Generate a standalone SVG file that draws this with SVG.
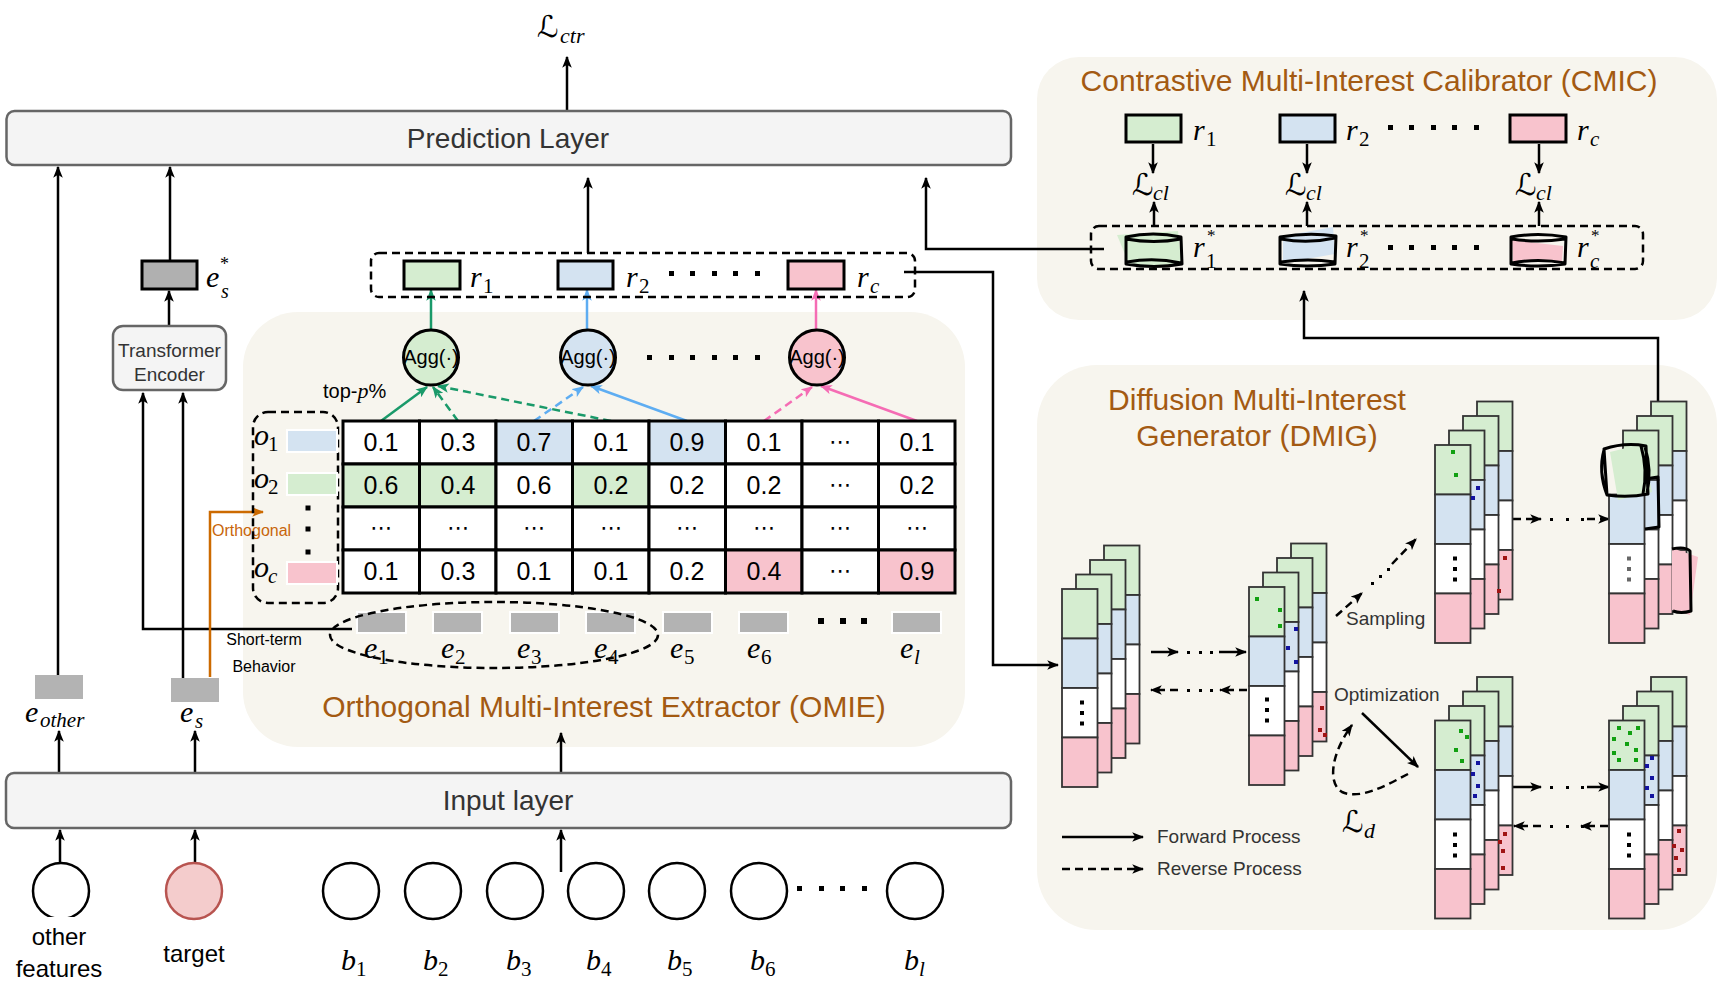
<svg xmlns="http://www.w3.org/2000/svg" xmlns:xlink="http://www.w3.org/1999/xlink" width="1730" height="984" viewBox="0 0 1730 984">
<style>
.sans{font-family:"Liberation Sans",Arial,sans-serif}
.math{font-family:"Liberation Serif","Times New Roman",serif;font-style:italic}
.mrm{font-family:"Liberation Serif","Times New Roman",serif;font-style:normal}
.cal{font-family:"DejaVu Serif","DejaVu Sans",serif;font-style:normal}
.title{font-family:"Liberation Sans",Arial,sans-serif;font-size:30px;fill:#a35a12}
.lbl{font-family:"Liberation Sans",Arial,sans-serif;fill:#333}
.conn{fill:none;stroke:#000;stroke-width:2.5}
.dash{stroke-dasharray:8 5}
.bg{fill:#f7f5ee}
.layer{fill:#f4f4f4;stroke:#666;stroke-width:2.5}
.cell{stroke:#000;stroke-width:3}
.num{font-family:"Liberation Sans",Arial,sans-serif;font-size:25px;text-anchor:middle}
.ell{font-family:"DejaVu Sans",sans-serif;font-size:22px;text-anchor:middle}
.seg{stroke:#333;stroke-width:1.8}
.g{fill:#d5edd0}.b{fill:#d4e3f1}.p{fill:#f8c3cd}.w{fill:#fff}
.dg{fill:#12a012}.db{fill:#1414a0}.dr{fill:#a01414}.dk{fill:#000}.dgr{fill:#666}
.sk{fill:none;stroke:#000;stroke-width:3;stroke-linejoin:round}
</style>
<defs>
<marker id="ah" viewBox="0 0 10 8" refX="9" refY="4" markerWidth="12" markerHeight="10" orient="auto" markerUnits="userSpaceOnUse"><path d="M0,0 L10,4 L0,8 L2.5,4 Z" fill="#000"/></marker>
<marker id="ahG" viewBox="0 0 10 8" refX="9" refY="4" markerWidth="12" markerHeight="10" orient="auto" markerUnits="userSpaceOnUse"><path d="M0,0 L10,4 L0,8 L2.5,4 Z" fill="#1a9a6a"/></marker>
<marker id="ahB" viewBox="0 0 10 8" refX="9" refY="4" markerWidth="12" markerHeight="10" orient="auto" markerUnits="userSpaceOnUse"><path d="M0,0 L10,4 L0,8 L2.5,4 Z" fill="#5eadf2"/></marker>
<marker id="ahP" viewBox="0 0 10 8" refX="9" refY="4" markerWidth="12" markerHeight="10" orient="auto" markerUnits="userSpaceOnUse"><path d="M0,0 L10,4 L0,8 L2.5,4 Z" fill="#f56cb4"/></marker>
<marker id="ahO" viewBox="0 0 10 8" refX="9" refY="4" markerWidth="12" markerHeight="10" orient="auto" markerUnits="userSpaceOnUse"><path d="M0,0 L10,4 L0,8 L2.5,4 Z" fill="#cc6a00"/></marker>
<g id="col">
<rect class="seg g" x="0" y="0" width="35.5" height="49.5"/>
<rect class="seg b" x="0" y="49.5" width="35.5" height="49.5"/>
<rect class="seg w" x="0" y="99" width="35.5" height="49.5"/>
<rect class="seg p" x="0" y="148.5" width="35.5" height="49.5"/>
</g>
<g id="colNoTop">
<rect class="seg b" x="0" y="49.5" width="35.5" height="49.5"/>
<rect class="seg w" x="0" y="99" width="35.5" height="49.5"/>
<rect class="seg p" x="0" y="148.5" width="35.5" height="49.5"/>
</g>
<g id="vdots"><rect x="-2" y="-12.5" width="4" height="4"/><rect x="-2" y="-2" width="4" height="4"/><rect x="-2" y="8.5" width="4" height="4"/></g>
</defs>

<rect width="1730" height="984" fill="#fff"/>

<!-- background panels -->
<g id="omie-panel"><rect class="bg" x="243" y="312" width="722" height="435" rx="55"/>
<text class="title" x="604" y="717" text-anchor="middle">Orthogonal Multi-Interest Extractor (OMIE)</text></g>
<g id="cmic-panel"><rect class="bg" x="1037" y="57" width="680" height="263" rx="42"/>
<text class="title" x="1369" y="91" text-anchor="middle">Contrastive Multi-Interest Calibrator (CMIC)</text></g>
<g id="dmig-panel"><rect class="bg" x="1037" y="365" width="680" height="565" rx="60"/>
<text class="title" x="1257" y="410" text-anchor="middle">Diffusion Multi-Interest</text>
<text class="title" x="1257" y="446" text-anchor="middle">Generator (DMIG)</text></g>

<!-- connectors -->
<g id="connectors">
<line class="conn" x1="567" y1="110" x2="567" y2="57" marker-end="url(#ah)"/>
<line class="conn" x1="58" y1="675" x2="58" y2="167" marker-end="url(#ah)"/>
<line class="conn" x1="170" y1="261" x2="170" y2="167" marker-end="url(#ah)"/>
<line class="conn" x1="169" y1="326" x2="169" y2="291" marker-end="url(#ah)"/>
<line class="conn" x1="588" y1="253" x2="588" y2="178" marker-end="url(#ah)"/>
<polyline class="conn" points="1104,249 926,249 926,178" marker-end="url(#ah)"/>
<polyline class="conn" points="352,629 143,629 143,393" marker-end="url(#ah)"/>
<line class="conn" x1="183" y1="678" x2="183" y2="393" marker-end="url(#ah)"/>
<polyline fill="none" stroke="#cc6a00" stroke-width="2.5" points="210,677 210,512 263,512" marker-end="url(#ahO)"/>
<line class="conn" x1="59" y1="773" x2="59" y2="731" marker-end="url(#ah)"/>
<line class="conn" x1="195" y1="773" x2="195" y2="731" marker-end="url(#ah)"/>
<line class="conn" x1="561" y1="772" x2="561" y2="733" marker-end="url(#ah)"/>
<line class="conn" x1="60" y1="863" x2="60" y2="830" marker-end="url(#ah)"/>
<line class="conn" x1="195" y1="863" x2="195" y2="830" marker-end="url(#ah)"/>
<line class="conn" x1="561" y1="872" x2="561" y2="830" marker-end="url(#ah)"/>
<!-- Agg to r -->
<line stroke="#1a9a6a" stroke-width="2.5" x1="431" y1="330" x2="431" y2="290" marker-end="url(#ahG)"/>
<line stroke="#5eadf2" stroke-width="2.5" x1="587" y1="330" x2="587" y2="290" marker-end="url(#ahB)"/>
<line stroke="#f56cb4" stroke-width="2.5" x1="816" y1="330" x2="816" y2="290" marker-end="url(#ahP)"/>
<!-- table to Agg -->
<line stroke="#1a9a6a" stroke-width="2.5" x1="381" y1="421" x2="427" y2="387" marker-end="url(#ahG)"/>
<line stroke="#1a9a6a" stroke-width="2.5" class="dash" x1="458" y1="421" x2="433" y2="387" marker-end="url(#ahG)"/>
<line stroke="#1a9a6a" stroke-width="2.5" class="dash" x1="611" y1="421" x2="438" y2="386" marker-end="url(#ahG)"/>
<line stroke="#5eadf2" stroke-width="2.5" class="dash" x1="534" y1="421" x2="583" y2="387" marker-end="url(#ahB)"/>
<line stroke="#5eadf2" stroke-width="2.5" x1="687" y1="421" x2="591" y2="386" marker-end="url(#ahB)"/>
<line stroke="#f56cb4" stroke-width="2.5" class="dash" x1="764" y1="421" x2="812" y2="387" marker-end="url(#ahP)"/>
<line stroke="#f56cb4" stroke-width="2.5" x1="917" y1="421" x2="821" y2="386" marker-end="url(#ahP)"/>
<!-- r to DMIG -->
<polyline class="conn" points="904,272 993,272 993,665 1058,665" marker-end="url(#ah)"/>
<!-- DMIG to CMIC -->
<polyline class="conn" points="1658,401 1658,338 1304,338 1304,291" marker-end="url(#ah)"/>
<!-- CMIC internal -->
<line class="conn" x1="1153" y1="144" x2="1153" y2="173" marker-end="url(#ah)"/>
<line class="conn" x1="1307" y1="144" x2="1307" y2="173" marker-end="url(#ah)"/>
<line class="conn" x1="1539" y1="144" x2="1539" y2="173" marker-end="url(#ah)"/>
<line class="conn" x1="1154" y1="226" x2="1154" y2="202" marker-end="url(#ah)"/>
<line class="conn" x1="1307" y1="226" x2="1307" y2="202" marker-end="url(#ah)"/>
<line class="conn" x1="1539" y1="226" x2="1539" y2="202" marker-end="url(#ah)"/>
<!-- DMIG internal -->
<line class="conn" x1="1151" y1="652" x2="1178" y2="652" marker-end="url(#ah)"/>
<line class="conn" x1="1219" y1="652" x2="1246" y2="652" marker-end="url(#ah)"/>
<line class="conn dash" x1="1247" y1="690" x2="1220" y2="690" marker-end="url(#ah)"/>
<line class="conn dash" x1="1178" y1="690" x2="1151" y2="690" marker-end="url(#ah)"/>
<line class="conn dash" x1="1513" y1="519" x2="1541" y2="519" marker-end="url(#ah)"/>
<line class="conn dash" x1="1587" y1="519" x2="1609" y2="519" marker-end="url(#ah)"/>
<line class="conn" x1="1513" y1="787" x2="1541" y2="787" marker-end="url(#ah)"/>
<line class="conn" x1="1587" y1="787" x2="1609" y2="787" marker-end="url(#ah)"/>
<line class="conn dash" x1="1608" y1="826" x2="1581" y2="826" marker-end="url(#ah)"/>
<line class="conn dash" x1="1541" y1="826" x2="1514" y2="826" marker-end="url(#ah)"/>
<line class="conn dash" x1="1336" y1="616" x2="1362" y2="593" marker-end="url(#ah)"/>
<line class="conn dash" x1="1392" y1="564" x2="1416" y2="539" marker-end="url(#ah)"/>
<line class="conn" x1="1362" y1="713" x2="1418" y2="767" marker-end="url(#ah)"/>
<path class="conn dash" d="M1408,774 C1385,786 1360,800 1342,792 C1328,784 1330,755 1352,725" marker-end="url(#ah)"/>
<line class="conn" x1="1062" y1="837" x2="1143" y2="837" marker-end="url(#ah)"/>
<line class="conn dash" x1="1062" y1="869" x2="1143" y2="869" marker-end="url(#ah)"/>
<g class="dk">
<rect x="1187" y="651" width="3" height="3"/><rect x="1199" y="651" width="3" height="3"/><rect x="1210" y="651" width="3" height="3"/>
<rect x="1187" y="689" width="3" height="3"/><rect x="1199" y="689" width="3" height="3"/><rect x="1210" y="689" width="3" height="3"/>
<rect x="1550" y="518" width="3" height="3"/><rect x="1566" y="518" width="3" height="3"/><rect x="1581" y="518" width="3" height="3"/>
<rect x="1550" y="786" width="3" height="3"/><rect x="1566" y="786" width="3" height="3"/><rect x="1581" y="786" width="3" height="3"/>
<rect x="1550" y="825" width="3" height="3"/><rect x="1566" y="825" width="3" height="3"/><rect x="1581" y="825" width="3" height="3"/>
<rect x="1371" y="582" width="3" height="3"/><rect x="1379" y="575" width="3" height="3"/><rect x="1387" y="568" width="3" height="3"/>
</g>
</g>

<!-- Prediction layer -->
<g id="prediction-layer"><rect class="layer" x="6.5" y="111" width="1004.5" height="54" rx="8"/>
<text class="lbl" x="508" y="148" font-size="28" text-anchor="middle">Prediction Layer</text></g>
<g id="loss-ctr"><text class="cal" x="537" y="37" font-size="30">ℒ</text><text class="math" x="560" y="43" font-size="22">ctr</text></g>

<!-- Input layer -->
<g id="input-layer"><rect class="layer" x="6" y="773" width="1005" height="55" rx="8"/>
<text class="lbl" x="508" y="810" font-size="28" text-anchor="middle">Input layer</text></g>

<!-- e_s* and transformer -->
<g id="es-star"><rect x="142" y="261" width="55" height="28" fill="#b0b0b0" stroke="#000" stroke-width="3"/>
<text class="math" x="206" y="287" font-size="30">e</text><text class="mrm" x="220" y="270" font-size="18">*</text><text class="math" x="221" y="298" font-size="20">s</text></g>
<g id="transformer"><rect class="layer" x="113" y="326" width="113" height="64" rx="10"/>
<text class="lbl" x="169.5" y="357" font-size="19" text-anchor="middle">Transformer</text>
<text class="lbl" x="169.5" y="381" font-size="19" text-anchor="middle">Encoder</text></g>

<g id="e-other"><rect x="35" y="675" width="48" height="24" fill="#b3b3b3"/>
<text class="math" x="25" y="722" font-size="30">e</text><text class="math" x="40" y="727" font-size="21">other</text></g>
<g id="e-s"><rect x="171" y="678" width="48" height="24" fill="#b3b3b3"/>
<text class="math" x="180" y="722" font-size="30">e</text><text class="math" x="195" y="728" font-size="21">s</text></g>
<g id="orthogonal-label"><text class="sans" x="212" y="536" font-size="16" fill="#c8650a">Orthogonal</text></g>
<g id="short-term-label"><text class="sans" x="264" y="645" font-size="16" text-anchor="middle">Short-term</text>
<text class="sans" x="264" y="672" font-size="16" text-anchor="middle">Behavior</text></g>

<!-- bottom inputs -->
<g id="other-features"><circle cx="61" cy="891" r="28" fill="#fff" stroke="#000" stroke-width="2.5"/>
<rect x="31" y="917" width="58" height="14" fill="#fff"/>
<text class="sans" x="59" y="945" font-size="24" text-anchor="middle">other</text>
<text class="sans" x="59" y="977" font-size="24" text-anchor="middle">features</text></g>
<g id="target"><circle cx="194" cy="891" r="28" fill="#f4cccc" stroke="#b85450" stroke-width="2.5"/>
<text class="sans" x="194" y="962" font-size="24" text-anchor="middle">target</text></g>
<g id="behaviors" fill="#fff" stroke="#000" stroke-width="2.5">
<circle cx="351" cy="891" r="28"/><circle cx="433" cy="891" r="28"/><circle cx="515" cy="891" r="28"/><circle cx="596" cy="891" r="28"/><circle cx="677" cy="891" r="28"/><circle cx="759" cy="891" r="28"/><circle cx="915" cy="891" r="28"/>
</g>
<g id="behavior-labels">
<text class="math" x="341" y="970" font-size="30">b</text><text class="mrm" x="356" y="976" font-size="21">1</text>
<text class="math" x="423" y="970" font-size="30">b</text><text class="mrm" x="438" y="976" font-size="21">2</text>
<text class="math" x="506" y="970" font-size="30">b</text><text class="mrm" x="521" y="976" font-size="21">3</text>
<text class="math" x="586" y="970" font-size="30">b</text><text class="mrm" x="601" y="976" font-size="21">4</text>
<text class="math" x="667" y="970" font-size="30">b</text><text class="mrm" x="682" y="976" font-size="21">5</text>
<text class="math" x="750" y="970" font-size="30">b</text><text class="mrm" x="765" y="976" font-size="21">6</text>
<text class="math" x="904" y="970" font-size="30">b</text><text class="math" x="919" y="976" font-size="21">l</text>
<g class="dk"><rect x="797" y="886" width="5" height="5"/><rect x="819" y="886" width="5" height="5"/><rect x="840" y="886" width="5" height="5"/><rect x="862" y="886" width="5" height="5"/></g>
</g>

<!-- r dashed group -->
<g id="r-group">
<rect x="371" y="253" width="544" height="44" rx="8" fill="none" stroke="#000" stroke-width="2.5" class="dash"/>
<rect class="g" x="404" y="261" width="56" height="28" stroke="#000" stroke-width="3"/>
<rect class="b" x="558" y="261" width="55" height="28" stroke="#000" stroke-width="3"/>
<rect class="p" x="788" y="261" width="56" height="28" stroke="#000" stroke-width="3"/>
<text class="math" x="470" y="287" font-size="30">r</text><text class="mrm" x="483" y="293" font-size="21">1</text>
<text class="math" x="626" y="287" font-size="30">r</text><text class="mrm" x="639" y="293" font-size="21">2</text>
<text class="math" x="857" y="287" font-size="30">r</text><text class="math" x="870" y="293" font-size="21">c</text>
<g class="dk"><rect x="669" y="271" width="5" height="5"/><rect x="690" y="271" width="5" height="5"/><rect x="712" y="271" width="5" height="5"/><rect x="733" y="271" width="5" height="5"/><rect x="755" y="271" width="5" height="5"/></g>
</g>

<!-- Agg nodes -->
<g id="agg1"><circle cx="431" cy="357.5" r="27.5" class="g" stroke="#000" stroke-width="3"/><text class="sans" x="431" y="364" font-size="20" text-anchor="middle">Agg(·)</text></g>
<g id="agg2"><circle cx="588" cy="357.5" r="27.5" class="b" stroke="#000" stroke-width="3"/><text class="sans" x="588" y="364" font-size="20" text-anchor="middle">Agg(·)</text></g>
<g id="agg3"><circle cx="817" cy="357.5" r="27.5" class="p" stroke="#000" stroke-width="3"/><text class="sans" x="817" y="364" font-size="20" text-anchor="middle">Agg(·)</text></g>
<g class="dk"><rect x="647" y="355" width="5" height="5"/><rect x="669" y="355" width="5" height="5"/><rect x="690" y="355" width="5" height="5"/><rect x="712" y="355" width="5" height="5"/><rect x="733" y="355" width="5" height="5"/><rect x="755" y="355" width="5" height="5"/></g>
<g id="top-p"><text class="sans" x="323" y="398" font-size="20">top-<tspan class="math" font-size="22">p</tspan>%</text></g>

<!-- orthogonal interests -->
<g id="interests">
<rect x="253" y="412" width="85" height="191" rx="15" fill="none" stroke="#000" stroke-width="2.5" class="dash"/>
<rect class="b" x="287" y="430" width="50" height="22" stroke="#fff" stroke-width="2"/>
<rect class="g" x="287" y="473" width="50" height="22" stroke="#fff" stroke-width="2"/>
<rect class="p" x="287" y="562" width="50" height="22" stroke="#fff" stroke-width="2"/>
<text class="math" x="254" y="445" font-size="30">o</text><text class="mrm" x="268" y="451" font-size="21">1</text>
<text class="math" x="254" y="488" font-size="30">o</text><text class="mrm" x="268" y="494" font-size="21">2</text>
<text class="math" x="254" y="577" font-size="30">o</text><text class="math" x="268" y="583" font-size="21">c</text>
<g class="dk"><rect x="305.5" y="505.5" width="5" height="5"/><rect x="305.5" y="526.5" width="5" height="5"/><rect x="305.5" y="549.5" width="5" height="5"/></g>
</g>

<!-- score table -->
<g id="score-table">
<g class="cell">
<rect class="w" x="343" y="421" width="76.5" height="43"/><rect class="w" x="419.5" y="421" width="76.5" height="43"/><rect class="b" x="496" y="421" width="76.5" height="43"/><rect class="w" x="572.5" y="421" width="76.5" height="43"/><rect class="b" x="649" y="421" width="76.5" height="43"/><rect class="w" x="725.5" y="421" width="76.5" height="43"/><rect class="w" x="802" y="421" width="76.5" height="43"/><rect class="w" x="878.5" y="421" width="76.5" height="43"/>
<rect class="g" x="343" y="464" width="76.5" height="43"/><rect class="g" x="419.5" y="464" width="76.5" height="43"/><rect class="w" x="496" y="464" width="76.5" height="43"/><rect class="g" x="572.5" y="464" width="76.5" height="43"/><rect class="w" x="649" y="464" width="76.5" height="43"/><rect class="w" x="725.5" y="464" width="76.5" height="43"/><rect class="w" x="802" y="464" width="76.5" height="43"/><rect class="w" x="878.5" y="464" width="76.5" height="43"/>
<rect class="w" x="343" y="507" width="76.5" height="43"/><rect class="w" x="419.5" y="507" width="76.5" height="43"/><rect class="w" x="496" y="507" width="76.5" height="43"/><rect class="w" x="572.5" y="507" width="76.5" height="43"/><rect class="w" x="649" y="507" width="76.5" height="43"/><rect class="w" x="725.5" y="507" width="76.5" height="43"/><rect class="w" x="802" y="507" width="76.5" height="43"/><rect class="w" x="878.5" y="507" width="76.5" height="43"/>
<rect class="w" x="343" y="550" width="76.5" height="43"/><rect class="w" x="419.5" y="550" width="76.5" height="43"/><rect class="w" x="496" y="550" width="76.5" height="43"/><rect class="w" x="572.5" y="550" width="76.5" height="43"/><rect class="w" x="649" y="550" width="76.5" height="43"/><rect class="p" x="725.5" y="550" width="76.5" height="43"/><rect class="w" x="802" y="550" width="76.5" height="43"/><rect class="p" x="878.5" y="550" width="76.5" height="43"/>
</g>
<g class="num">
<text x="381" y="451">0.1</text><text x="458" y="451">0.3</text><text x="534" y="451">0.7</text><text x="611" y="451">0.1</text><text x="687" y="451">0.9</text><text x="764" y="451">0.1</text><text x="917" y="451">0.1</text>
<text x="381" y="494">0.6</text><text x="458" y="494">0.4</text><text x="534" y="494">0.6</text><text x="611" y="494">0.2</text><text x="687" y="494">0.2</text><text x="764" y="494">0.2</text><text x="917" y="494">0.2</text>
<text x="381" y="580">0.1</text><text x="458" y="580">0.3</text><text x="534" y="580">0.1</text><text x="611" y="580">0.1</text><text x="687" y="580">0.2</text><text x="764" y="580">0.4</text><text x="917" y="580">0.9</text>
</g>
<g class="ell">
<text x="840" y="449">⋯</text><text x="840" y="492">⋯</text><text x="840" y="578">⋯</text>
<text x="381" y="535">⋯</text><text x="458" y="535">⋯</text><text x="534" y="535">⋯</text><text x="611" y="535">⋯</text><text x="687" y="535">⋯</text><text x="764" y="535">⋯</text><text x="840" y="535">⋯</text><text x="917" y="535">⋯</text>
</g>
</g>

<!-- behavior embeddings -->
<g id="embeddings">
<g fill="#b3b3b3" stroke="#fff" stroke-width="2">
<rect x="357" y="612" width="49" height="21"/><rect x="433" y="612" width="49" height="21"/><rect x="510" y="612" width="49" height="21"/><rect x="586" y="612" width="49" height="21"/><rect x="663" y="612" width="49" height="21"/><rect x="739" y="612" width="49" height="21"/><rect x="892" y="612" width="49" height="21"/>
</g>
<ellipse cx="494" cy="635" rx="164" ry="33" fill="none" stroke="#000" stroke-width="2.5" class="dash"/>
<text class="math" x="364" y="658" font-size="30">e</text><text class="mrm" x="378" y="664" font-size="21">1</text>
<text class="math" x="441" y="658" font-size="30">e</text><text class="mrm" x="455" y="664" font-size="21">2</text>
<text class="math" x="517" y="658" font-size="30">e</text><text class="mrm" x="531" y="664" font-size="21">3</text>
<text class="math" x="594" y="658" font-size="30">e</text><text class="mrm" x="608" y="664" font-size="21">4</text>
<text class="math" x="670" y="658" font-size="30">e</text><text class="mrm" x="684" y="664" font-size="21">5</text>
<text class="math" x="747" y="658" font-size="30">e</text><text class="mrm" x="761" y="664" font-size="21">6</text>
<text class="math" x="900" y="658" font-size="30">e</text><text class="math" x="914" y="664" font-size="21">l</text>
<g class="dk"><rect x="818" y="618" width="6" height="6"/><rect x="840" y="618" width="6" height="6"/><rect x="861" y="618" width="6" height="6"/></g>
</g>

<!-- CMIC contents -->
<g id="cmic-r">
<rect class="g" x="1126" y="115" width="55" height="27" stroke="#000" stroke-width="3"/>
<rect class="b" x="1280" y="115" width="55" height="27" stroke="#000" stroke-width="3"/>
<rect class="p" x="1510" y="115" width="56" height="27" stroke="#000" stroke-width="3"/>
<text class="math" x="1193" y="140" font-size="30">r</text><text class="mrm" x="1206" y="146" font-size="21">1</text>
<text class="math" x="1346" y="140" font-size="30">r</text><text class="mrm" x="1359" y="146" font-size="21">2</text>
<text class="math" x="1577" y="140" font-size="30">r</text><text class="math" x="1590" y="146" font-size="21">c</text>
<g class="dk"><rect x="1388" y="125" width="5" height="5"/><rect x="1409" y="125" width="5" height="5"/><rect x="1431" y="125" width="5" height="5"/><rect x="1452" y="125" width="5" height="5"/><rect x="1474" y="125" width="5" height="5"/></g>
</g>
<g id="cmic-loss">
<text class="cal" x="1132" y="195" font-size="30">ℒ</text><text class="math" x="1153" y="200" font-size="22">cl</text>
<text class="cal" x="1285" y="195" font-size="30">ℒ</text><text class="math" x="1306" y="200" font-size="22">cl</text>
<text class="cal" x="1515" y="195" font-size="30">ℒ</text><text class="math" x="1536" y="200" font-size="22">cl</text>
</g>
<g id="cmic-rstar">
<rect x="1091" y="226" width="552" height="43" rx="8" fill="none" stroke="#000" stroke-width="2.5" class="dash"/>
<polygon class="g" points="1117,235 1178,231 1182,265 1130,266"/>
<polygon class="b" points="1283,236 1333,227 1335,254 1283,263"/>
<polygon class="p" points="1512,240 1563,246 1562,262 1513,262"/>
<path class="sk" d="M1126,237 Q1153,231 1181,237 L1182,264 Q1154,269 1126,264 Z M1126,239 Q1154,244 1181,239 M1127,262 Q1154,257 1181,263"/>
<path class="sk" d="M1280,237 Q1308,232 1336,236 L1335,264 Q1307,268 1280,264 Z M1281,239 Q1308,244 1335,238 M1281,262 Q1308,258 1335,262"/>
<path class="sk" d="M1511,237 Q1538,232 1566,237 L1565,264 Q1538,268 1511,264 Z M1512,239 Q1538,243 1565,239 M1512,263 Q1538,258 1565,263"/>
<text class="math" x="1193" y="257" font-size="30">r</text><text class="mrm" x="1207" y="241" font-size="17">*</text><text class="mrm" x="1206" y="268" font-size="21">1</text>
<text class="math" x="1346" y="257" font-size="30">r</text><text class="mrm" x="1360" y="241" font-size="17">*</text><text class="mrm" x="1359" y="268" font-size="21">2</text>
<text class="math" x="1577" y="257" font-size="30">r</text><text class="mrm" x="1591" y="241" font-size="17">*</text><text class="math" x="1590" y="268" font-size="21">c</text>
<g class="dk"><rect x="1388" y="245" width="5" height="5"/><rect x="1409" y="245" width="5" height="5"/><rect x="1431" y="245" width="5" height="5"/><rect x="1452" y="245" width="5" height="5"/><rect x="1474" y="245" width="5" height="5"/></g>
</g>

<!-- DMIG stacks -->
<g id="stack1">
<use href="#col" x="1104" y="545.5"/><use href="#col" x="1090" y="560"/><use href="#col" x="1076" y="574.5"/><use href="#col" x="1062" y="589"/>
<use href="#vdots" x="1082" y="713" class="dk"/>
</g>
<g id="stack2">
<use href="#col" x="1291" y="543.5"/><use href="#col" x="1277" y="558"/><use href="#col" x="1263" y="572.5"/><use href="#col" x="1249" y="587"/>
<use href="#vdots" x="1267" y="710" class="dk"/>
<g class="dg"><rect x="1255" y="597" width="4" height="4"/><rect x="1278" y="608" width="4" height="4"/><rect x="1278" y="624" width="4" height="4"/></g>
<g class="db"><rect x="1294" y="627" width="4" height="4"/><rect x="1286" y="646" width="4" height="4"/><rect x="1294" y="660" width="4" height="4"/></g>
<g class="dr"><rect x="1320" y="706" width="4" height="4"/><rect x="1318" y="728" width="4" height="4"/><rect x="1323" y="733" width="4" height="4"/></g>
</g>
<g id="stack3">
<use href="#col" x="1477" y="401.5"/><use href="#col" x="1463" y="416"/><use href="#col" x="1449" y="430.5"/><use href="#col" x="1435" y="445"/>
<use href="#vdots" x="1455" y="569" class="dk"/>
<g class="dg"><rect x="1451" y="450" width="4" height="4"/><rect x="1454" y="473" width="4" height="4"/></g>
<g class="db"><rect x="1476" y="486" width="4" height="4"/><rect x="1471" y="496" width="4" height="4"/></g>
<g class="dr"><rect x="1503" y="556" width="4" height="4"/><rect x="1497" y="589" width="4" height="4"/></g>
</g>
<g id="stack4">
<use href="#col" x="1651" y="401.5"/><use href="#col" x="1637" y="416"/><use href="#col" x="1623" y="430.5"/><use href="#colNoTop" x="1609" y="445"/>
<use href="#vdots" x="1629" y="569" class="dgr"/>
<polygon class="g" points="1610,452 1642,444 1652,492 1618,500"/>
<path class="sk" stroke-width="1.6" d="M1604,449 Q1625,442 1646,446 L1648,494 Q1628,498 1607,495 Z M1604,450 Q1598,472 1607,495 M1641,446 Q1648,470 1643,494 M1645,447 Q1652,470 1647,493"/>
<path class="sk" stroke-width="1.6" d="M1645,479 L1658,477 L1659,527 L1645,529"/>
<polygon class="p" points="1672,548 1698,557 1690,615 1672,610"/>
<path class="sk" stroke-width="1.6" d="M1672,549 Q1685,546 1690,551 L1691,611 Q1681,614 1673,611"/>
</g>
<g id="stack5">
<use href="#col" x="1477" y="677"/><use href="#col" x="1463" y="691.5"/><use href="#col" x="1449" y="706"/><use href="#col" x="1435" y="720.5"/>
<use href="#vdots" x="1455" y="845" class="dk"/>
<g class="dg"><rect x="1459" y="729" width="4" height="4"/><rect x="1465" y="735" width="4" height="4"/><rect x="1454" y="748" width="4" height="4"/><rect x="1460" y="759" width="4" height="4"/></g>
<g class="db"><rect x="1476" y="761" width="4" height="4"/><rect x="1471" y="772" width="4" height="4"/><rect x="1476" y="784" width="4" height="4"/><rect x="1473" y="794" width="4" height="4"/></g>
<g class="dr"><rect x="1503" y="832" width="4" height="4"/><rect x="1498" y="840" width="4" height="4"/><rect x="1501" y="849" width="4" height="4"/><rect x="1501" y="866" width="4" height="4"/></g>
</g>
<g id="stack6">
<use href="#col" x="1651" y="677"/><use href="#col" x="1637" y="691.5"/><use href="#col" x="1623" y="706"/><use href="#col" x="1609" y="720.5"/>
<use href="#vdots" x="1629" y="845" class="dk"/>
<g class="dg"><rect x="1617" y="726" width="4" height="4"/><rect x="1636" y="726" width="4" height="4"/><rect x="1628" y="731" width="4" height="4"/><rect x="1612" y="737" width="4" height="4"/><rect x="1625" y="742" width="4" height="4"/><rect x="1634" y="748" width="4" height="4"/><rect x="1612" y="751" width="4" height="4"/><rect x="1617" y="758" width="4" height="4"/><rect x="1634" y="758" width="4" height="4"/></g>
<g class="db"><rect x="1650" y="756" width="4" height="4"/><rect x="1645" y="764" width="4" height="4"/><rect x="1650" y="776" width="4" height="4"/><rect x="1645" y="786" width="4" height="4"/><rect x="1650" y="794" width="4" height="4"/></g>
<g class="dr"><rect x="1677" y="829" width="4" height="4"/><rect x="1672" y="844" width="4" height="4"/><rect x="1680" y="848" width="4" height="4"/><rect x="1674" y="856" width="4" height="4"/><rect x="1677" y="868" width="4" height="4"/></g>
</g>

<g id="dmig-labels">
<text class="lbl" x="1346" y="625" font-size="19">Sampling</text>
<text class="lbl" x="1334" y="701" font-size="19">Optimization</text>
<text class="cal" x="1342" y="832" font-size="30">ℒ</text><text class="math" x="1364" y="838" font-size="22">d</text>
<text class="lbl" x="1157" y="843" font-size="19">Forward Process</text>
<text class="lbl" x="1157" y="875" font-size="19">Reverse Process</text>
</g>
</svg>
